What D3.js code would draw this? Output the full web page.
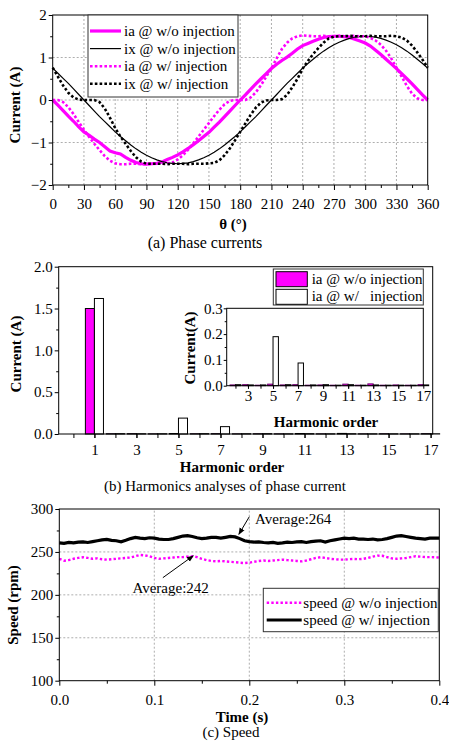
<!DOCTYPE html>
<html>
<head>
<meta charset="utf-8">
<script src="https://cdn.jsdelivr.net/npm/d3@7"></script>
<style>
  body { margin: 0; background: #fff; }
  svg { display: block; font-family: "Liberation Serif", "Times New Roman", serif; }
</style>
</head>
<body>
<svg id="fig" width="449" height="741"></svg>
<script>
// ---------- (a) phase currents, sampled every 5 degrees ----------
const thetaDeg = [0,5,10,15,20,25,30,35,40,45,50,55,60,65,70,75,80,85,90,95,100,105,110,115,120,
  125,130,135,140,145,150,155,160,165,170,175,180,185,190,195,200,205,210,215,220,225,230,235,240,
  245,250,255,260,265,270,275,280,285,290,295,300,305,310,315,320,325,330,335,340,345,350,355,360];

const iaWo = [0.00,-0.12,-0.25,-0.38,-0.50,-0.63,-0.75,-0.83,-0.92,-1.00,-1.10,-1.20,-1.24,-1.27,-1.35,
  -1.42,-1.47,-1.50,-1.51,-1.50,-1.49,-1.46,-1.40,-1.35,-1.29,-1.22,-1.14,-1.05,-0.96,-0.86,-0.76,
  -0.64,-0.52,-0.39,-0.26,-0.13,0.00,0.12,0.25,0.38,0.50,0.62,0.74,0.84,0.93,1.01,1.10,1.20,1.28,
  1.33,1.38,1.43,1.47,1.49,1.50,1.50,1.49,1.47,1.43,1.39,1.34,1.27,1.17,1.07,0.96,0.85,0.74,0.62,
  0.50,0.38,0.25,0.12,0.00];

const ixWo = [0.75,0.63,0.51,0.39,0.26,0.13,0.00,-0.13,-0.26,-0.39,-0.51,-0.63,-0.75,-0.86,-0.96,
  -1.06,-1.15,-1.23,-1.30,-1.36,-1.41,-1.45,-1.48,-1.49,-1.50,-1.49,-1.48,-1.45,-1.41,-1.36,-1.30,
  -1.23,-1.15,-1.06,-0.96,-0.86,-0.75,-0.63,-0.51,-0.39,-0.26,-0.13,0.00,0.13,0.26,0.39,0.51,0.63,
  0.75,0.86,0.96,1.06,1.15,1.23,1.30,1.36,1.41,1.45,1.48,1.49,1.50,1.49,1.48,1.45,1.41,1.36,1.30,
  1.23,1.15,1.06,0.96,0.86,0.75];

const iaW = [0.00,0.00,-0.05,-0.17,-0.33,-0.52,-0.70,-0.87,-1.03,-1.18,-1.32,-1.43,-1.49,-1.51,-1.51,
  -1.50,-1.50,-1.51,-1.51,-1.50,-1.50,-1.50,-1.49,-1.47,-1.40,-1.30,-1.17,-1.02,-0.86,-0.70,-0.54,
  -0.38,-0.23,-0.10,-0.02,0.00,0.00,0.00,0.06,0.18,0.35,0.55,0.75,0.98,1.20,1.35,1.45,1.50,1.52,
  1.51,1.50,1.50,1.51,1.50,1.50,1.51,1.50,1.50,1.51,1.50,1.50,1.46,1.40,1.30,1.16,0.98,0.76,0.55,
  0.33,0.15,0.04,0.00,0.00];

const ixW = [0.76,0.55,0.34,0.17,0.06,0.01,0.00,0.00,0.00,-0.05,-0.20,-0.42,-0.66,-0.86,-1.03,
  -1.20,-1.35,-1.45,-1.50,-1.50,-1.50,-1.50,-1.51,-1.50,-1.50,-1.50,-1.51,-1.50,-1.50,-1.50,-1.49,
  -1.48,-1.42,-1.30,-1.14,-0.95,-0.75,-0.55,-0.35,-0.18,-0.06,-0.01,0.00,0.00,0.02,0.12,0.30,0.50,
  0.74,0.92,1.08,1.22,1.35,1.45,1.49,1.50,1.50,1.51,1.50,1.50,1.50,1.51,1.50,1.50,1.50,1.51,1.50,
  1.47,1.40,1.28,1.12,0.95,0.76];

const phaseSeries = ["ia @ w/o injection", "ix @ w/o injection", "ia @ w/ injection", "ix @ w/ injection"];

// ---------- (b) harmonic spectrum ----------
const harmonicOrder = [1,2,3,4,5,6,7,8,9,10,11,12,13,14,15,16,17];
const harmWo = [1.50,0.003,0.004,0.002,0.006,0.003,0.004,0.002,0.003,0.002,0.006,0.002,0.007,0.002,0.003,0.002,0.004];
const harmW  = [1.62,0.004,0.003,0.003,0.190,0.004,0.088,0.003,0.004,0.002,0.004,0.002,0.003,0.002,0.002,0.002,0.003];
const harmSeries = ["ia @ w/o injection", "ia @ w/   injection"];
const harmTicks = [1,3,5,7,9,11,13,15,17];
const insetTicks = [3,5,7,9,11,13,15,17];

// ---------- (c) speed, sampled every 5 ms ----------
const timeS = d3.range(81).map(i => i * 0.005);
const speedWo = [242,239.8,240.5,242,243,243.8,243,242,242.5,241.5,241,241.5,242,242.5,243,243.5,
  245,246.5,246,245,243,242,242.5,243,243.5,244,244,244.5,245,244,242,240.5,239.5,239,239.5,239,
  238.5,238,237.5,237,237.5,238.5,239.5,240,239.5,240,240.5,241,240.5,240,239.5,239,240,241.5,243,
  243.8,243,242,241.5,241,241,241.5,241.8,241.5,242,243,244.5,245.7,245.5,244,242.5,242,242.5,243,
  244,245,244.5,244,244,243.8,243.5];
const speedW = [260.5,260,261,260.5,261.5,261.7,261,262,263,264,264.5,263.5,263,261.8,263.5,265.5,
  267,266,265.5,266.5,266,265,264.5,264.5,265.5,267,268.5,269,268,266.5,265.5,266,267,267,266,267,
  268,267.5,265.5,263,262,261.5,261.7,261,260.5,261,260,260.5,261.5,261,261.7,262,261,262,262.5,263,
  261.5,263,264,265,266,265.5,266,265,265,264.5,265,264,264.5,265.5,267,268.5,269,268,267,266,265.5,
  265,266,266,266];
const speedSeries = ["speed @ w/o injection", "speed @ w/ injection"];
// annotations: [label, text anchor (t, rpm), arrow start (t, rpm), arrow tip (t, rpm)]
const speedNotes = [
  ["Average:264", [0.206, 283], [0.2, 291], [0.189, 270.5]],
  ["Average:242", [0.077, 202], [0.109, 220], [0.141, 245.5]]
];

const MAG = "#ff00ff";
const FONT = '"Liberation Serif", "Times New Roman", serif';
const svg = d3.select("#fig");

// arrowhead marker
svg.append("defs").append("marker")
  .attr("id", "arrow").attr("viewBox", "0 0 10 10").attr("refX", 9).attr("refY", 5)
  .attr("markerWidth", 7).attr("markerHeight", 7).attr("orient", "auto")
  .append("path").attr("d", "M0,1 L10,5 L0,9 Z").attr("fill", "#000");

function addAxis(g, axis, tr) {
  const a = g.append("g").attr("transform", tr).call(axis)
    .attr("font-family", FONT).attr("font-size", 15);
  a.select(".domain").remove();
  return a;
}

function frame(g, x, y) {
  g.append("rect")
    .attr("x", x.range()[0]).attr("y", y.range()[1])
    .attr("width", x.range()[1] - x.range()[0]).attr("height", y.range()[0] - y.range()[1])
    .attr("fill", "none").attr("stroke", "#000").attr("stroke-width", 1);
}

function grid(g, x, y, xv, yv) {
  const gg = g.append("g").attr("stroke", "#999").attr("stroke-width", 0.8).attr("stroke-dasharray", "2,2");
  gg.selectAll("line.v").data(xv).join("line").attr("class", "v")
    .attr("x1", d => x(d)).attr("x2", d => x(d)).attr("y1", y.range()[0]).attr("y2", y.range()[1]);
  gg.selectAll("line.h").data(yv).join("line").attr("class", "h")
    .attr("y1", d => y(d)).attr("y2", d => y(d)).attr("x1", x.range()[0]).attr("x2", x.range()[1]);
}

function title(g, txt, x, y, opts = {}) {
  const t = g.append("text").attr("font-family", FONT).attr("font-size", opts.size || 15)
    .attr("font-weight", opts.bold ? "bold" : "normal").attr("text-anchor", "middle").text(txt);
  if (opts.rotate) t.attr("transform", `translate(${x},${y}) rotate(-90)`);
  else t.attr("x", x).attr("y", y);
  return t;
}

// ================= (a) =================
{
  const g = svg.append("g");
  const x = d3.scaleLinear().domain([0, 360]).range([52.7, 427.7]);
  const y = d3.scaleLinear().domain([-2, 2]).range([185, 15]);

  grid(g, x, y, d3.range(30, 360, 30), [-1, 0, 1]);

  addAxis(g, d3.axisBottom(x).tickValues(d3.range(0, 361, 30)).tickSize(5).tickPadding(8).tickFormat(d3.format("d")), `translate(0,${y.range()[0]})`);
  addAxis(g, d3.axisBottom(x).tickValues(d3.range(15, 360, 30)).tickSize(3).tickFormat(""), `translate(0,${y.range()[0]})`);
  addAxis(g, d3.axisLeft(y).tickValues([-2, -1, 0, 1, 2]).tickSize(4).tickPadding(2).tickFormat(d3.format("d")), `translate(${x.range()[0]},0)`);
  addAxis(g, d3.axisLeft(y).tickValues([-1.5, -0.5, 0.5, 1.5]).tickSize(2.5).tickFormat(""), `translate(${x.range()[0]},0)`);

  const line = d3.line().x(d => x(d[0])).y(d => y(d[1]));
  const styles = [
    { data: iaWo, color: MAG, w: 3.2, dash: null },
    { data: ixWo, color: "#000", w: 1.2, dash: null },
    { data: iaW, color: MAG, w: 2.6, dash: "2.6,2.2" },
    { data: ixW, color: "#000", w: 2.6, dash: "2.6,2.2" }
  ];
  styles.forEach(s => {
    g.append("path").datum(thetaDeg.map((t, i) => [t, s.data[i]]))
      .attr("d", line).attr("fill", "none").attr("stroke", s.color)
      .attr("stroke-width", s.w).attr("stroke-dasharray", s.dash);
  });

  frame(g, x, y);

  // legend
  const lg = g.append("g");
  lg.append("rect").attr("x", 88).attr("y", 15).attr("width", 150).attr("height", 82)
    .attr("fill", "#fff").attr("stroke", "#333").attr("stroke-width", 1);
  phaseSeries.forEach((name, i) => {
    const yy = 31 + i * 17.6;
    lg.append("line").attr("x1", 90).attr("x2", 121).attr("y1", yy).attr("y2", yy)
      .attr("stroke", styles[i].color).attr("stroke-width", styles[i].w).attr("stroke-dasharray", styles[i].dash);
    lg.append("text").attr("x", 124).attr("y", yy + 5).attr("font-family", FONT).attr("font-size", 15).text(name);
  });

  title(g, "Current (A)", 20, 105, { bold: true, rotate: true });
  title(g, "θ (°)", 233, 229, { bold: true });
  title(g, "(a) Phase currents", 205, 248, { size: 16 });
}

// ================= (b) =================
{
  const g = svg.append("g");
  const x = d3.scaleLinear().domain([-0.7, 17.1]).range([58.7, 432.7]);
  const y = d3.scaleLinear().domain([0, 2]).range([434, 266.7]);
  const bw = 0.43;

  addAxis(g, d3.axisBottom(x).tickValues(harmTicks).tickSize(4).tickPadding(6), `translate(0,${y.range()[0]})`);
  addAxis(g, d3.axisBottom(x).tickValues(d3.range(0, 18, 1)).tickSize(4).tickFormat(""), `translate(0,${y.range()[0]})`);
  addAxis(g, d3.axisLeft(y).tickValues([0, 0.5, 1, 1.5, 2]).tickSize(4).tickPadding(2).tickFormat(d3.format(".1f")), `translate(${x.range()[0]},0)`);
  addAxis(g, d3.axisLeft(y).tickValues([0.25, 0.75, 1.25, 1.75]).tickSize(2.5).tickFormat(""), `translate(${x.range()[0]},0)`);

  const bars = g.append("g").attr("stroke", "#000").attr("stroke-width", 1);
  bars.selectAll("rect.wo").data(harmonicOrder).join("rect").attr("class", "wo")
    .attr("x", d => x(d - bw)).attr("width", x(bw) - x(0))
    .attr("y", (d, i) => y(harmWo[i])).attr("height", (d, i) => y(0) - y(harmWo[i]))
    .attr("fill", MAG);
  bars.selectAll("rect.w").data(harmonicOrder).join("rect").attr("class", "w")
    .attr("x", d => x(d)).attr("width", x(bw) - x(0))
    .attr("y", (d, i) => y(harmW[i])).attr("height", (d, i) => y(0) - y(harmW[i]))
    .attr("fill", "#fff");

  frame(g, x, y);

  // inset
  const ix = d3.scaleLinear().domain([1.3, 17]).range([226.7, 423.3]);
  const iy = d3.scaleLinear().domain([0, 0.3]).range([385.7, 308.3]);
  g.append("rect").attr("x", ix.range()[0]).attr("y", iy.range()[1])
    .attr("width", ix.range()[1] - ix.range()[0]).attr("height", iy.range()[0] - iy.range()[1]).attr("fill", "#fff");
  addAxis(g, d3.axisBottom(ix).tickValues(insetTicks).tickSize(3).tickPadding(1.5), `translate(0,${iy.range()[0]})`);
  addAxis(g, d3.axisBottom(ix).tickValues(d3.range(2, 17, 1)).tickSize(3).tickFormat(""), `translate(0,${iy.range()[0]})`);
  addAxis(g, d3.axisLeft(iy).tickValues([0, 0.1, 0.2, 0.3]).tickSize(3).tickPadding(1).tickFormat(d3.format(".1f")), `translate(${ix.range()[0]},0)`);
  addAxis(g, d3.axisLeft(iy).tickValues([0.05, 0.15, 0.25]).tickSize(2).tickFormat(""), `translate(${ix.range()[0]},0)`);
  const inOrders = harmonicOrder.filter(o => o >= 2);
  const ib = g.append("g").attr("stroke", "#000").attr("stroke-width", 1);
  ib.selectAll("rect.wo").data(inOrders).join("rect").attr("class", "wo")
    .attr("x", d => ix(d - bw)).attr("width", ix(bw) - ix(0))
    .attr("y", d => iy(harmWo[d - 1])).attr("height", d => iy(0) - iy(harmWo[d - 1]))
    .attr("fill", MAG).attr("stroke", "#606");
  ib.selectAll("rect.w").data(inOrders).join("rect").attr("class", "w")
    .attr("x", d => ix(d)).attr("width", ix(bw) - ix(0))
    .attr("y", d => iy(harmW[d - 1])).attr("height", d => iy(0) - iy(harmW[d - 1]))
    .attr("fill", "#fff");
  frame(g, ix, iy);
  title(g, "Current(A)", 195, 348, { bold: true, rotate: true });
  title(g, "Harmonic order", 326, 427, { bold: true });

  // legend
  const lg = g.append("g");
  lg.append("rect").attr("x", 273.3).attr("y", 269).attr("width", 150).attr("height", 36)
    .attr("fill", "#fff").attr("stroke", "#333").attr("stroke-width", 1);
  harmSeries.forEach((name, i) => {
    const yy = 271.7 + i * 17.6;
    lg.append("rect").attr("x", 276).attr("y", yy).attr("width", 31.3).attr("height", 15)
      .attr("fill", i === 0 ? MAG : "#fff").attr("stroke", "#000").attr("stroke-width", 1);
    lg.append("text").attr("x", 311.7).attr("y", yy + 12).attr("font-family", FONT).attr("font-size", 15)
      .attr("xml:space", "preserve").style("white-space", "pre").text(name);
  });

  title(g, "Current (A)", 21, 354, { bold: true, rotate: true });
  title(g, "Harmonic order", 232, 472, { bold: true });
  title(g, "(b) Harmonics analyses of phase current", 225, 491);
}

// ================= (c) =================
{
  const g = svg.append("g");
  const x = d3.scaleLinear().domain([0, 0.4]).range([59.3, 439.3]);
  const y = d3.scaleLinear().domain([100, 300]).range([680.7, 509]);

  grid(g, x, y, [0.1, 0.2, 0.3], [150, 200, 250]);

  addAxis(g, d3.axisBottom(x).tickValues([0, 0.1, 0.2, 0.3, 0.4]).tickSize(5).tickPadding(9).tickFormat(d3.format(".1f")), `translate(0,${y.range()[0]})`);
  addAxis(g, d3.axisBottom(x).tickValues([0.05, 0.15, 0.25, 0.35]).tickSize(3).tickFormat(""), `translate(0,${y.range()[0]})`);
  addAxis(g, d3.axisLeft(y).tickValues([100, 150, 200, 250, 300]).tickSize(4).tickPadding(2), `translate(${x.range()[0]},0)`);
  addAxis(g, d3.axisLeft(y).tickValues([125, 175, 225, 275]).tickSize(2.5).tickFormat(""), `translate(${x.range()[0]},0)`);

  const line = d3.line().x(d => x(d[0])).y(d => y(d[1]));
  const styles = [
    { data: speedWo, color: MAG, w: 2.4, dash: "2.4,2.2" },
    { data: speedW, color: "#000", w: 3.2, dash: null }
  ];
  styles.forEach(s => {
    g.append("path").datum(timeS.map((t, i) => [t, s.data[i]]))
      .attr("d", line).attr("fill", "none").attr("stroke", s.color)
      .attr("stroke-width", s.w).attr("stroke-dasharray", s.dash);
  });

  speedNotes.forEach(([label, tp, from, to]) => {
    g.append("line").attr("x1", x(from[0])).attr("y1", y(from[1])).attr("x2", x(to[0])).attr("y2", y(to[1]))
      .attr("stroke", "#000").attr("stroke-width", 1).attr("marker-end", "url(#arrow)");
    g.append("text").attr("x", x(tp[0])).attr("y", y(tp[1])).attr("font-family", FONT).attr("font-size", 15).text(label);
  });

  frame(g, x, y);

  const lg = g.append("g");
  lg.append("rect").attr("x", 263.3).attr("y", 588.3).attr("width", 175).attr("height", 43.4)
    .attr("fill", "#fff").attr("stroke", "#333").attr("stroke-width", 1);
  speedSeries.forEach((name, i) => {
    const yy = 602.7 + i * 17.3;
    lg.append("line").attr("x1", 266.7).attr("x2", 301.7).attr("y1", yy).attr("y2", yy)
      .attr("stroke", styles[i].color).attr("stroke-width", styles[i].w).attr("stroke-dasharray", styles[i].dash);
    lg.append("text").attr("x", 303.3).attr("y", yy + 5).attr("font-family", FONT).attr("font-size", 15).text(name);
  });

  title(g, "Speed (rpm)", 18, 605, { bold: true, rotate: true });
  title(g, "Time (s)", 242, 722, { bold: true });
  title(g, "(c) Speed", 231, 737);
}
</script>
</body>
</html>
